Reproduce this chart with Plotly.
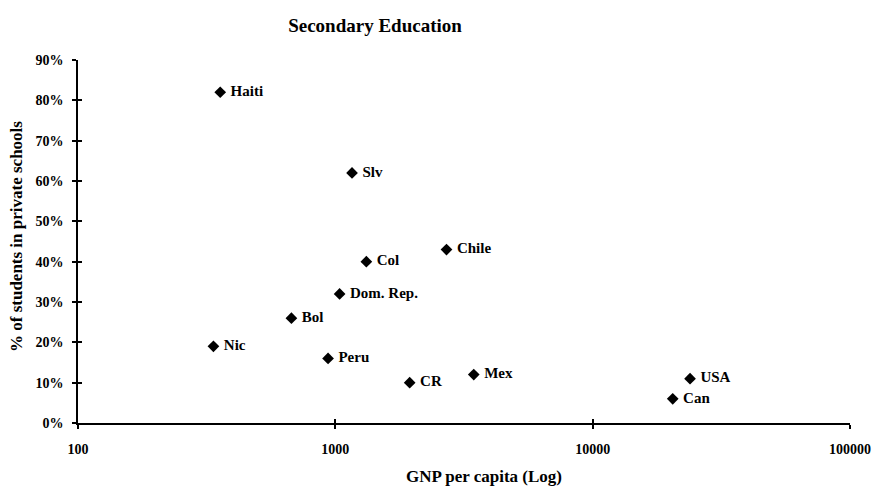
import plotly.graph_objects as go

countries = ["Haiti", "Nic", "Bol", "Peru", "Dom. Rep.", "Slv", "Col", "CR", "Chile", "Mex", "Can", "USA"]
gnp = [357, 336, 675, 937, 1039, 1161, 1320, 1945, 2704, 3451, 20470, 23900]
private_share = [0.82, 0.19, 0.26, 0.16, 0.32, 0.62, 0.40, 0.10, 0.43, 0.12, 0.06, 0.11]

x_ticks = [100, 1000, 10000, 100000]
x_ticktext = ["100", "1000", "10000", "100000"]
y_ticks = [0, 0.1, 0.2, 0.3, 0.4, 0.5, 0.6, 0.7, 0.8, 0.9]
y_ticktext = ["0%", "10%", "20%", "30%", "40%", "50%", "60%", "70%", "80%", "90%"]

ff = "Liberation Serif, Times New Roman, serif"

W, H = 874, 486
ML, MR, MT, MB = 78, 24, 60, 63
PW, PH = W - ML - MR, H - MT - MB

fig = go.Figure()
fig.add_trace(go.Scatter(
    x=gnp, y=private_share, mode="markers+text",
    text=[" " + c for c in countries], textposition="middle right",
    textfont=dict(family=ff, size=15, color="black", weight="bold"),
    marker=dict(symbol="diamond", size=9, color="black"),
    showlegend=False, cliponaxis=False,
))
# invisible trace carrying the overlaid axes that draw the inner half of the tick marks
fig.add_trace(go.Scatter(
    x=gnp, y=private_share, mode="markers", xaxis="x2", yaxis="y2",
    marker=dict(opacity=0), showlegend=False, hoverinfo="skip",
))

axis_common = dict(showgrid=False, zeroline=False, tickcolor="black", tickwidth=1.5, ticklen=4)

fig.update_layout(
    width=W, height=H,
    margin=dict(l=ML, r=MR, t=MT, b=MB),
    paper_bgcolor="white", plot_bgcolor="white",
    font=dict(family=ff, color="black", size=14),
    title=dict(text="<b>Secondary Education</b>", x=375 / W, xanchor="center",
               y=1 - 25 / H, yanchor="middle", xref="container", yref="container",
               font=dict(size=19, family=ff)),
    xaxis=dict(type="log", range=[2, 5], tickvals=x_ticks, ticktext=x_ticktext,
               showline=True, linecolor="black", linewidth=1.5, ticks="outside",
               ticklabelstandoff=8, automargin=False,
               tickfont=dict(size=14, family=ff, weight="bold"), **axis_common),
    yaxis=dict(range=[0, 0.9], tickvals=y_ticks, ticktext=y_ticktext,
               showline=True, linecolor="black", linewidth=1.5, ticks="outside",
               ticklabelstandoff=6, automargin=False,
               tickfont=dict(size=14, family=ff, weight="bold"), **axis_common),
    xaxis2=dict(type="log", range=[2, 5], tickvals=x_ticks, overlaying="x", anchor="y2",
                showticklabels=False, showline=False, ticks="inside", automargin=False, **axis_common),
    yaxis2=dict(range=[0, 0.9], tickvals=y_ticks, overlaying="y", anchor="x2",
                showticklabels=False, showline=False, ticks="inside", automargin=False, **axis_common),
    annotations=[
        dict(text="<b>GNP per capita (Log)</b>", xref="paper", yref="paper",
             x=(484 - ML) / PW, y=-(476 - 423) / PH, xanchor="center", yanchor="middle",
             showarrow=False, font=dict(size=17, family=ff)),
        dict(text="<b>% of students in private schools</b>", xref="paper", yref="paper",
             x=-(ML - 16) / PW, y=(423 - 237) / PH, xanchor="center", yanchor="middle",
             textangle=-90, showarrow=False, font=dict(size=17, family=ff)),
    ],
)

# remove the browser's default 8px body margin so the figure fills the window exactly
fig.write_html("out.html", config={"displayModeBar": False},
               post_script="document.body.style.margin='0';document.body.style.overflow='hidden';")
